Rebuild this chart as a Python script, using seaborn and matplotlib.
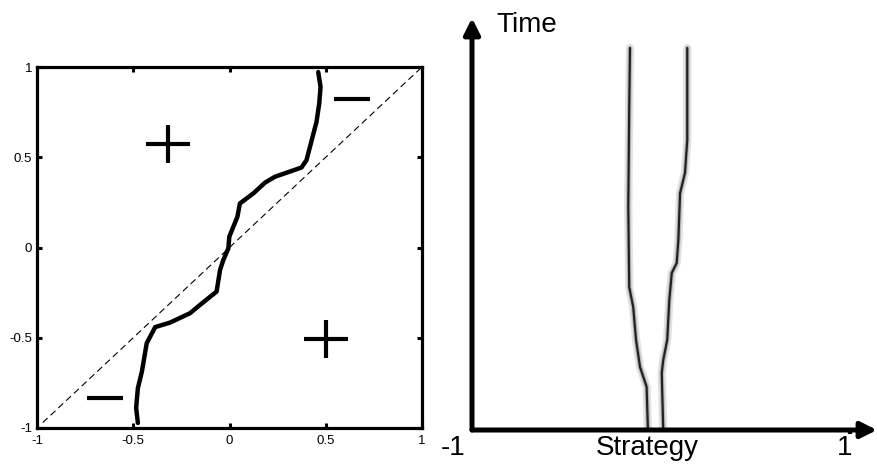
import numpy as np
import pandas as pd
import matplotlib.pyplot as plt
import matplotlib.path as mpath
import seaborn as sns

# Left panel: boundary curve
curve_x = [-0.476, -0.485, -0.476, -0.455, -0.430, -0.386, -0.309, -0.205, -0.153,
           -0.067, -0.049, -0.032, -0.006, -0.001, 0.020, 0.041, 0.054, 0.124,
           0.184, 0.236, 0.374, 0.400, 0.452, 0.466, 0.473, 0.461]
curve_y = [-0.972, -0.889, -0.779, -0.687, -0.530, -0.441, -0.416, -0.364, -0.318,
           -0.244, -0.124, -0.069, -0.005, 0.060, 0.115, 0.170, 0.244, 0.300,
           0.359, 0.392, 0.443, 0.484, 0.696, 0.797, 0.889, 0.972]
diag = [-0.97, 1.0]
ticks = [-1, -0.5, 0, 0.5, 1]
tick_labels = ['-1', '-0.5', '0', '0.5', '1']
plus_x = [-0.317, 0.499]
plus_y = [0.576, -0.506]
minus_x = [0.634, -0.649]
minus_y = [0.825, -0.834]

# Right panel: the two branches (strategy vs time)
left_t = [1.0, 0.846, 0.584, 0.374, 0.322, 0.236, 0.165, 0.113, 0.0]
left_s = [-0.164, -0.168, -0.173, -0.168, -0.147, -0.132, -0.111, -0.076, -0.069]
right_t = [1.0, 0.759, 0.673, 0.620, 0.497, 0.437, 0.411, 0.340, 0.236, 0.183, 0.149, 0.0]
right_s = [0.139, 0.139, 0.127, 0.101, 0.092, 0.083, 0.057, 0.044, 0.033, 0.012, 0.004, 0.012]

sns.set_style('white')
plt.rcParams['font.family'] = ['Liberation Sans', 'DejaVu Sans']
plt.rcParams['text.color'] = 'black'
plt.rcParams['xtick.color'] = 'black'
plt.rcParams['ytick.color'] = 'black'

fig = plt.figure(figsize=(8.77, 4.67), dpi=100)

# ---------------- left panel ----------------
ax = fig.add_axes([37 / 877, 39 / 467, 385 / 877, 361 / 467])
ax.plot(diag, diag, color='black', lw=0.8, linestyle=(0, (6, 3.6)))
curve = pd.DataFrame({'x': curve_x, 'y': curve_y})
sns.lineplot(data=curve, x='x', y='y', sort=False, estimator=None,
             color='black', lw=3.2, ax=ax)

plus_path = mpath.Path([(-1.2, 0), (1.2, 0), (0, -1), (0, 1)],
                       [mpath.Path.MOVETO, mpath.Path.LINETO,
                        mpath.Path.MOVETO, mpath.Path.LINETO])
ax.plot(plus_x, plus_y, ls='none', marker=plus_path, ms=32, mew=3, color='black')
ax.plot(minus_x, minus_y, ls='none', marker='_', ms=26.5, mew=3, color='black')

ax.set_xlim(-1, 1)
ax.set_ylim(-1, 1)
ax.set_xticks(ticks)
ax.set_xticklabels(tick_labels)
ax.set_yticks(ticks)
ax.set_yticklabels(tick_labels)
ax.set_xlabel('')
ax.set_ylabel('')
ax.tick_params(direction='in', length=3.5, width=2.2, labelsize=9.5,
               top=True, right=True, bottom=True, left=True, pad=3.5)
ax.tick_params(axis='x', pad=5)
for sp in ax.spines.values():
    sp.set_linewidth(2.3)
    sp.set_color('black')

# ---------------- right panel ----------------
ax2 = fig.add_axes([472 / 877, 37 / 467, 405 / 877, 412 / 467])
ax2.set_xlim(-1, 1.143)
ax2.set_ylim(0, 1.0785)
for sp in ax2.spines.values():
    sp.set_visible(False)

for s, t in [(left_s, left_t), (right_s, right_t)]:
    br = pd.DataFrame({'s': s, 't': t})
    sns.lineplot(data=br, x='s', y='t', sort=False, estimator=None,
                 color='#c8c8c8', lw=6, alpha=0.5, ax=ax2)
    sns.lineplot(data=br, x='s', y='t', sort=False, estimator=None,
                 color='#999999', lw=3.2, alpha=0.6, ax=ax2)
    sns.lineplot(data=br, x='s', y='t', sort=False, estimator=None,
                 color='#222222', lw=1.6, ax=ax2)

arrow = dict(arrowstyle='-|>', lw=3.6, color='black', mutation_scale=24,
             shrinkA=0, shrinkB=0)
ax2.annotate('', xy=(1, 0), xytext=(0, 0), xycoords='axes fraction',
             textcoords='axes fraction', arrowprops=arrow, annotation_clip=False)
ax2.annotate('', xy=(0, 1), xytext=(0, 0), xycoords='axes fraction',
             textcoords='axes fraction', arrowprops=arrow, annotation_clip=False)

ax2.set_xticks([1])
ax2.set_xticklabels([''])
ax2.set_yticks([])
ax2.tick_params(axis='x', direction='out', length=3, width=3, bottom=True)
ax2.set_xlabel('')
ax2.set_ylabel('')

ax2.text(-1.10, -0.047, '-1', fontsize=20, ha='center', va='center', clip_on=False)
ax2.text(-0.07, -0.047, 'Strategy', fontsize=20, ha='center', va='center', clip_on=False)
ax2.text(0.974, -0.047, '1', fontsize=20, ha='center', va='center', clip_on=False)
ax2.text(-0.87, 1.06, 'Time', fontsize=20, ha='left', va='center', clip_on=False)

fig.savefig('out.png', dpi=100)
